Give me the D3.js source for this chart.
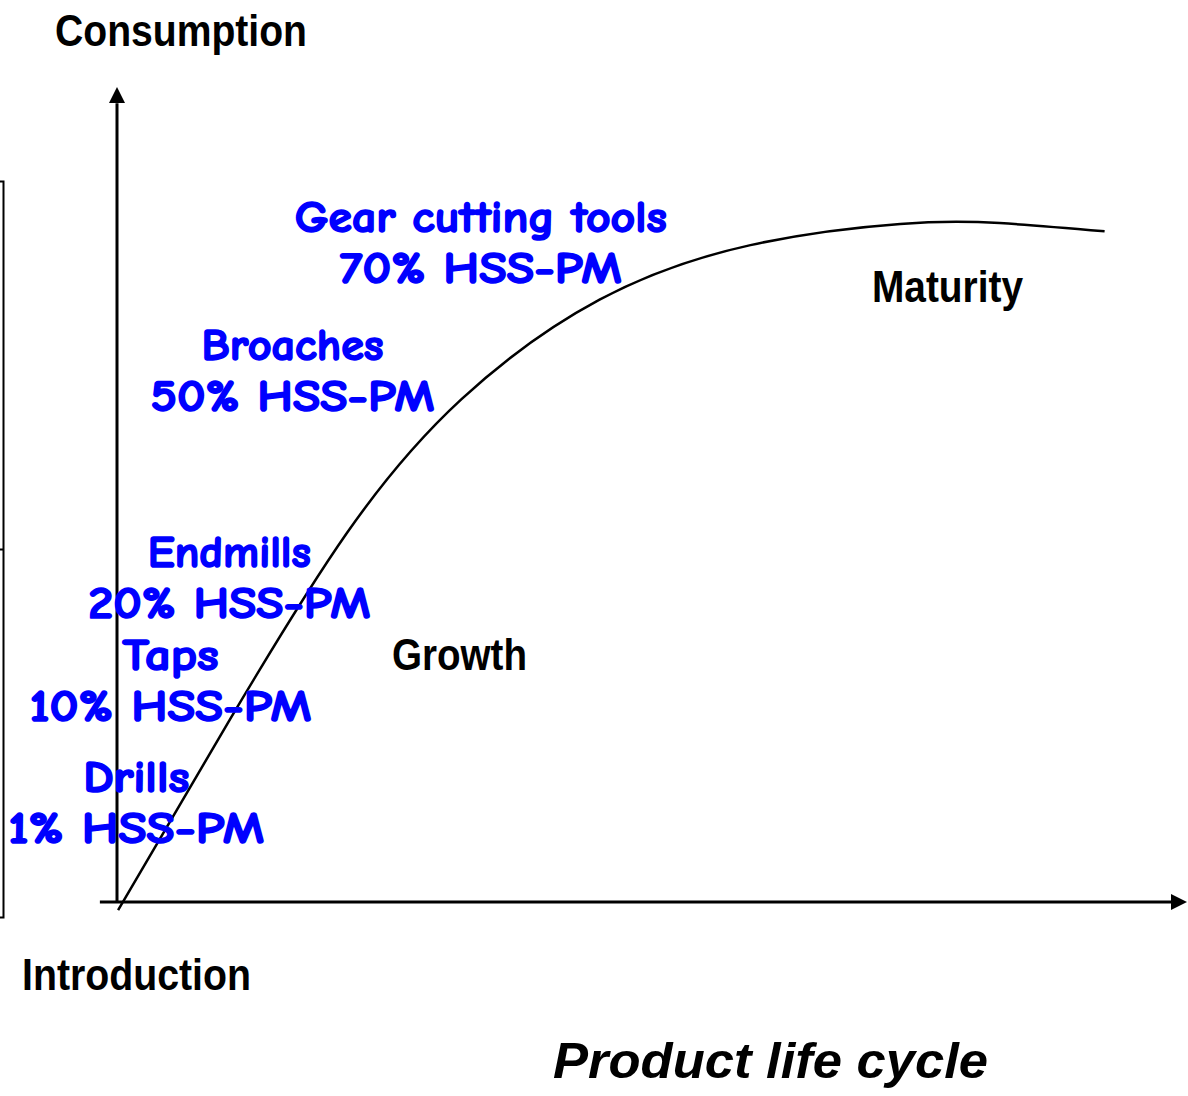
<!DOCTYPE html>
<html>
<head>
<meta charset="utf-8">
<script src="https://cdn.jsdelivr.net/npm/d3@7"></script>
<style>
body { margin: 0; background: #fff; }
</style>
</head>
<body>
<div id="plot"></div>
<script>
// curve of the product life cycle (stage 0-100, consumption 0-100)
var stage = [0.1, 10.6, 21.5, 32.2, 45.1, 59.2, 73.2, 82.5, 92.3]
var consumption = [-1.0, 22.5, 45.3, 61.7, 73.9, 80.6, 83.2, 83.3, 82.3]

// tool groups and their HSS-PM share
var tools = ["Drills", "Taps", "Endmills", "Broaches", "Gear cutting tools"]
var shares = ["1% HSS-PM", "10% HSS-PM", "20% HSS-PM", "50% HSS-PM", "70% HSS-PM"]
var toolStage = [1.8, 5.0, 10.5, 16.4, 34.0]
var toolLevel = [13.5, 28.5, 41.1, 66.5, 82.2]

// phase names
var phases = ["Introduction", "Growth", "Maturity"]

var W = 1188, H = 1096

var svg = d3.select("#plot").append("svg")
    .attr("width", W)
    .attr("height", H)

var x = d3.scaleLinear().domain([0, 100]).range([117, 1187])
var y = d3.scaleLinear().domain([0, 100]).range([902, 87])

var blueFont = "'Comic Sans MS', 'Comic Neue', 'DejaVu Sans', sans-serif"
var blackFont = "'Liberation Sans Narrow', 'Arial Narrow', 'Liberation Sans', Arial, sans-serif"

// left bracket
var b = d3.scaleLinear().domain([0, 2]).range([917, 181])
svg.append("g")
    .attr("transform", "translate(3,0)")
    .call(d3.axisLeft(b).tickValues([1]).tickSize(3).tickFormat(""))
    .call(function (g) {
        g.selectAll("path, line").attr("stroke", "#000").attr("stroke-width", 2)
    })

// axes
svg.append("line")
    .attr("x1", x(-1.6)).attr("x2", x(98.6))
    .attr("y1", y(0)).attr("y2", y(0))
    .attr("stroke", "#000").attr("stroke-width", 3)
svg.append("path")
    .attr("d", "M" + x(100) + "," + y(0) + "L" + (x(100) - 16) + "," + (y(0) - 8) + "L" + (x(100) - 16) + "," + (y(0) + 8) + "Z")
    .attr("fill", "#000")

svg.append("line")
    .attr("x1", x(0)).attr("x2", x(0))
    .attr("y1", y(0)).attr("y2", y(98))
    .attr("stroke", "#000").attr("stroke-width", 3)
svg.append("path")
    .attr("d", "M" + x(0) + "," + y(100) + "L" + (x(0) - 8) + "," + (y(100) + 16) + "L" + (x(0) + 8) + "," + (y(100) + 16) + "Z")
    .attr("fill", "#000")

// curve
var pts = stage.map(function (s, i) { return [s, consumption[i]] })
svg.append("path")
    .datum(pts)
    .attr("fill", "none")
    .attr("stroke", "#000")
    .attr("stroke-width", 2.5)
    .attr("d", d3.line()
        .x(function (d) { return x(d[0]) })
        .y(function (d) { return y(d[1]) })
        .curve(d3.curveNatural))

// blue tool labels
var nameW = [106, 96, 163, 182, 372]
var shareW = [256, 282, 282, 284, 282]
function blue(txt, px, py, w) {
    svg.append("text")
        .attr("x", px).attr("y", py)
        .attr("text-anchor", "middle")
        .attr("textLength", w).attr("lengthAdjust", "spacingAndGlyphs")
        .style("font-family", blueFont).style("font-weight", "bold")
        .style("font-size", "44px")
        .attr("fill", "#0000ff")
        .attr("stroke", "#0000ff").attr("stroke-width", 1.6)
        .attr("stroke-linejoin", "round")
        .text(txt)
}
tools.forEach(function (t, i) {
    var cx = x(toolStage[i]), by = y(toolLevel[i])
    blue(t, cx, by, nameW[i])
    blue(shares[i], cx, by + 51, shareW[i])
})

// black labels
function label(txt, px, py, w, size, italic) {
    svg.append("text")
        .attr("x", px).attr("y", py)
        .attr("textLength", w).attr("lengthAdjust", "spacingAndGlyphs")
        .style("font-family", blackFont).style("font-weight", "bold")
        .style("font-style", italic ? "italic" : "normal")
        .style("font-size", size + "px").attr("fill", "#000")
        .text(txt)
}
label("Consumption", 55, 46, 252, 44)
label(phases[0], 22, 990, 229, 44)
label(phases[1], 392, 670, 135, 44)
label(phases[2], 872, 302, 151, 44)
label("Product life cycle", 553, 1078, 435, 50, true)
</script>
</body>
</html>
